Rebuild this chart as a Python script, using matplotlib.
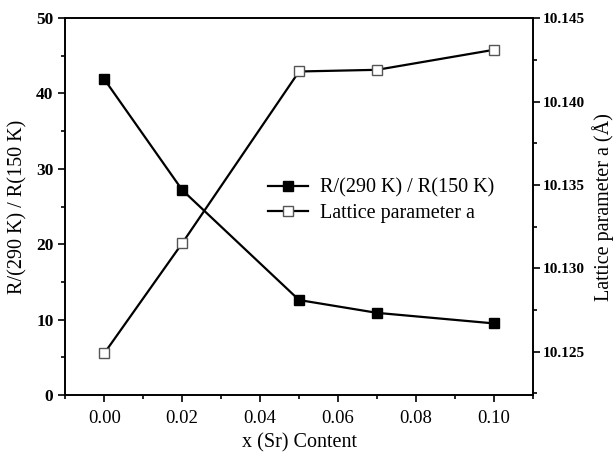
import matplotlib
matplotlib.use("Agg")
from matplotlib import pyplot as plt
from matplotlib.ticker import MultipleLocator

# данные
x_sr = [0.00, 0.02, 0.05, 0.07, 0.10]
ratio_r = [41.9, 27.2, 12.6, 10.9, 9.5]
lattice_a = [10.1249, 10.1315, 10.1418, 10.1419, 10.1431]

plt.rcParams['font.family'] = ['Liberation Serif', 'DejaVu Serif']
plt.rcParams['mathtext.fontset'] = 'stix'

fig, ax = plt.subplots(figsize=(6.16, 4.53), dpi=100)
fig.subplots_adjust(left=0.106, right=0.865, top=0.96, bottom=0.128)
ax2 = ax.twinx()

l1, = ax.plot(x_sr, ratio_r, color='black', lw=1.6, marker='s', ms=7.5,
              mfc='black', mec='black', label='R/(290 K) / R(150 K)')
l2, = ax2.plot(x_sr, lattice_a, color='black', lw=1.6, marker='s', ms=7.5,
               mfc='white', mec='#555555', mew=1.0, label='Lattice parameter a')

ax.set_xlim(-0.01, 0.11)
ax.set_ylim(0, 50)
ax2.set_ylim(10.1224, 10.145)

ax.xaxis.set_major_locator(MultipleLocator(0.02))
ax.xaxis.set_minor_locator(MultipleLocator(0.01))
ax.yaxis.set_major_locator(MultipleLocator(10))
ax.yaxis.set_minor_locator(MultipleLocator(5))
ax2.yaxis.set_major_locator(MultipleLocator(0.005))
ax2.yaxis.set_minor_locator(MultipleLocator(0.0025))
ax.xaxis.set_major_formatter(plt.FormatStrFormatter('%.2f'))
ax2.yaxis.set_major_formatter(plt.FormatStrFormatter('%.3f'))

for a in (ax, ax2):
    for s in a.spines.values():
        s.set_linewidth(1.2)
    a.tick_params(which='both', direction='out', width=1.2)
    a.tick_params(which='major', length=5)
    a.tick_params(which='minor', length=3)

ax.tick_params(axis='x', labelsize=13.5, pad=6)
ax.tick_params(axis='y', labelsize=12.5)
ax2.tick_params(axis='y', labelsize=11, pad=2)
for lab in ax.get_yticklabels() + ax2.get_yticklabels():
    lab.set_fontweight('bold')

ax.set_xlabel('x (Sr) Content', fontsize=14.5, labelpad=4)
ax.set_ylabel('R/(290 K) / R(150 K)', fontsize=14.5, labelpad=6)
ax2.set_ylabel('Lattice parameter a (Å)', fontsize=14.5, labelpad=5)

ax.legend(handles=[l1, l2], loc='upper left', bbox_to_anchor=(0.394, 0.622),
          frameon=False, fontsize=14.5, handlelength=2.0, handletextpad=0.6,
          labelspacing=0.3)

fig.savefig('out.png', dpi=100)
